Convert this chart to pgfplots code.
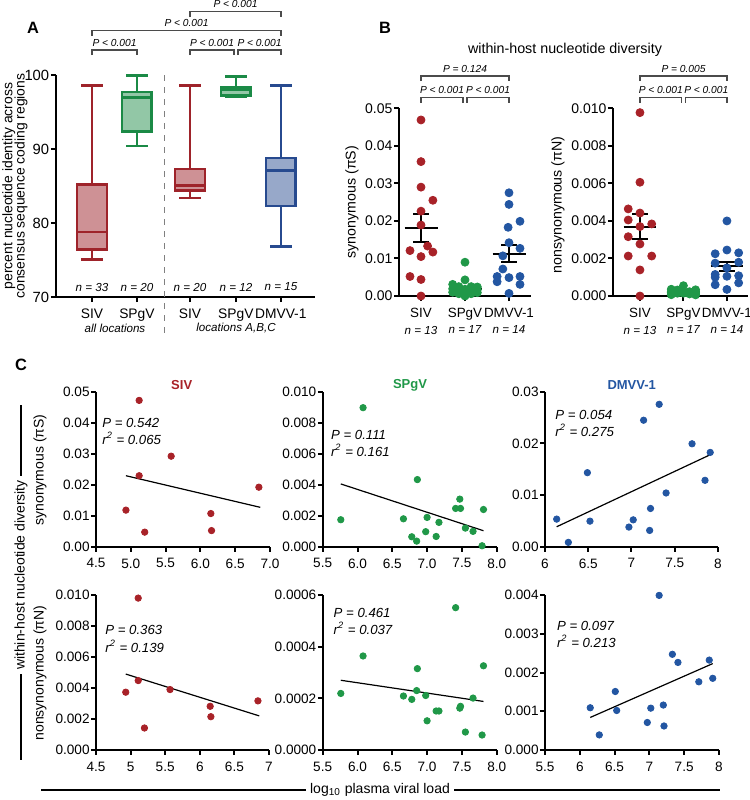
\documentclass[border=0pt]{standalone}
\usepackage{fontspec}
\setmainfont{Liberation Sans}
\usepackage{pgfplots}
\pgfplotsset{compat=1.18}
\definecolor{sivc}{RGB}{158,35,42}
\definecolor{spgc}{RGB}{27,138,70}
\definecolor{dmvc}{RGB}{39,74,143}
\definecolor{sivd}{RGB}{168,34,40}
\definecolor{spgd}{RGB}{32,152,72}
\definecolor{dmvd}{RGB}{35,86,162}
\definecolor{brk}{RGB}{75,75,75}
\newcommand\fs[1]{\fontsize{#1}{#1}\selectfont}
\pgfplotsset{
  base/.style={scale only axis, anchor=south west, axis lines=left, clip=false,
    axis line style={line width=1pt,-}, tick align=outside,
    major tick style={line width=1pt,black}, major tick length=2.5pt,
    yticklabel style={inner xsep=0.6pt},
    scaled ticks=false, /pgf/number format/assume math mode=true},
  bax/.style={base, tick label style={font=\fs{7.0}}, major tick length=2.5pt},
  cax/.style={base, tick label style={font=\fs{6.8}}, major tick length=2.4pt, height=77.5pt},
  sdot/.style={only marks, mark=*, mark size=2pt},
  cdot/.style={only marks, mark=*, mark size=1.6pt},
  reg/.style={black, line width=0.6pt},
  eb/.style={black, line width=1pt},
}
% bracket: x1, x2, y (horizontal), leg length, text
\newcommand\brk[5]{%
  \draw[brk, line width=0.7pt] (#1,{-(#3)-(#4)}) -- (#1,-#3) -- (#2,-#3) -- (#2,{-(#3)-(#4)});
  \node[font=\fs{5.1}\itshape, inner sep=0pt] at ({(#1+#2)/2},{-(#3)+7.5}) {#5};}
\begin{document}
\begin{tikzpicture}[x=0.5pt,y=0.5pt]
\path[use as bounding box] (0,0) rectangle (750,-800);

% ================= Panel A =================
\node[font=\fs{8.2}\bfseries] at (33,-28) {A};
\begin{axis}[base, at={(28pt,-148.5pt)}, width=129.5pt, height=111pt,
  axis line style={line width=1.2pt}, major tick style={line width=1.2pt}, major tick length=2.6pt,
  xmin=0.2, xmax=5.96, ymin=70, ymax=100, ytick={70,80,90,100},
  yticklabel style={font=\fs{7.4}},
  xtick={1,2,3.18,4.2,5.2}, xticklabels={SIV,SPgV,SIV,SPgV,DMVV-1},
  xticklabel style={font=\fs{6.9}}]
% SIV (all locations)
\addplot[draw=sivc, fill=sivc!50!white, line width=1.3pt] coordinates {(0.67,76.4)(1.33,76.4)(1.33,85.2)(0.67,85.2)} -- cycle;
\addplot[sivc, line width=1.3pt] coordinates {(0.67,78.8)(1.33,78.8)};
\addplot[sivc, line width=1.3pt] coordinates {(1,85.2)(1,98.6)};
\addplot[sivc, line width=1.3pt] coordinates {(0.76,98.6)(1.24,98.6)};
\addplot[sivc, line width=1.3pt] coordinates {(1,76.4)(1,75.1)};
\addplot[sivc, line width=1.3pt] coordinates {(0.76,75.1)(1.24,75.1)};
% SPgV (all locations)
\addplot[draw=spgc, fill=spgc!48!white, line width=1.3pt] coordinates {(1.67,92.4)(2.33,92.4)(2.33,97.7)(1.67,97.7)} -- cycle;
\addplot[spgc, line width=1.3pt] coordinates {(1.67,97.0)(2.33,97.0)};
\addplot[spgc, line width=1.3pt] coordinates {(2,97.7)(2,99.95)};
\addplot[spgc, line width=1.3pt] coordinates {(1.76,99.95)(2.24,99.95)};
\addplot[spgc, line width=1.3pt] coordinates {(2,92.4)(2,90.4)};
\addplot[spgc, line width=1.3pt] coordinates {(1.76,90.4)(2.24,90.4)};
% SIV (A,B,C)
\addplot[draw=sivc, fill=sivc!50!white, line width=1.3pt] coordinates {(2.85,84.4)(3.51,84.4)(3.51,87.3)(2.85,87.3)} -- cycle;
\addplot[sivc, line width=1.3pt] coordinates {(2.85,85.1)(3.51,85.1)};
\addplot[sivc, line width=1.3pt] coordinates {(3.18,87.3)(3.18,98.6)};
\addplot[sivc, line width=1.3pt] coordinates {(2.94,98.6)(3.42,98.6)};
\addplot[sivc, line width=1.3pt] coordinates {(3.18,84.4)(3.18,83.4)};
\addplot[sivc, line width=1.3pt] coordinates {(2.94,83.4)(3.42,83.4)};
% SPgV (A,B,C)
\addplot[draw=spgc, fill=spgc!48!white, line width=1.3pt] coordinates {(3.87,97.2)(4.53,97.2)(4.53,98.3)(3.87,98.3)} -- cycle;
\addplot[spgc, line width=1.3pt] coordinates {(3.87,98.0)(4.53,98.0)};
\addplot[spgc, line width=1.3pt] coordinates {(4.2,98.3)(4.2,99.8)};
\addplot[spgc, line width=1.3pt] coordinates {(3.96,99.8)(4.44,99.8)};
\addplot[spgc, line width=1.3pt] coordinates {(3.96,97.05)(4.44,97.05)};
% DMVV-1
\addplot[draw=dmvc, fill=dmvc!48!white, line width=1.3pt] coordinates {(4.87,82.3)(5.53,82.3)(5.53,88.8)(4.87,88.8)} -- cycle;
\addplot[dmvc, line width=1.3pt] coordinates {(4.87,87.1)(5.53,87.1)};
\addplot[dmvc, line width=1.3pt] coordinates {(5.2,88.8)(5.2,98.6)};
\addplot[dmvc, line width=1.3pt] coordinates {(4.96,98.6)(5.44,98.6)};
\addplot[dmvc, line width=1.3pt] coordinates {(5.2,82.3)(5.2,76.8)};
\addplot[dmvc, line width=1.3pt] coordinates {(4.96,76.8)(5.44,76.8)};
\end{axis}
\draw[gray, dashed, line width=0.5pt] (164,-75) -- (164,-333);
\foreach \xx/\tt in {92/33,137/20,190/20,236/12,281/15}
  \node[font=\fs{5.8}\itshape] at (\xx,-287) {n = \tt};
\node[font=\fs{5.8}\itshape] at (115,-328) {all locations};
\node[font=\fs{5.8}\itshape] at (236,-328) {locations A,B,C};
\node[font=\fs{6.95}, rotate=90, align=center, inner sep=0pt] at (15,-186) {percent nucleotide identity across\\[-0.8pt]consensus sequence coding regions};
\brk{92}{137}{50}{5}{P < 0.001}
\brk{190}{234}{50}{5}{P < 0.001}
\brk{238}{281}{50}{5}{P < 0.001}
\brk{92}{281}{30.7}{5}{P < 0.001}
\brk{190}{281}{11.7}{5.6}{P < 0.001}

% ================= Panel B =================
\node[font=\fs{8.2}\bfseries] at (385,-28) {B};
\node[font=\fs{7.15}] at (565,-50) {within-host nucleotide diversity};
\begin{axis}[bax, at={(199.5pt,-148pt)}, width=66pt, height=93.85pt,
  xmin=0.5, xmax=3.5, ymin=0, ymax=0.05,
  ytick={0,0.01,0.02,0.03,0.04,0.05}, yticklabels={0.00,0.01,0.02,0.03,0.04,0.05},
  xtick={1,2,3}, xticklabels={SIV,SPgV,DMVV-1}, xticklabel style={font=\fs{6.7}}]
\addplot[sdot, sivd] coordinates {(1,0.0469)(1,0.0358)(1,0.0290)(1.27,0.0255)(1,0.0226)(1,0.0189)(1.15,0.0133)(0.75,0.0121)(1.27,0.0117)(1,0.0105)(0.75,0.0052)(1,0.0044)(1,0.0)};
\addplot[sdot, spgd] coordinates {(2,0.0090)(2,0.0043)(1.72,0.0031)(1.86,0.0025)(2.14,0.0025)(2.28,0.0024)(1.72,0.0019)(2.0,0.0018)(2.28,0.0017)(1.86,0.0015)(2.14,0.0012)(1.72,0.0010)(2.28,0.0009)(1.86,0.0006)(2.14,0.0006)(2.0,0.0003)(2.0,0.0000)};
\addplot[sdot, dmvd] coordinates {(3,0.0275)(3,0.0244)(3.25,0.0199)(2.98,0.0183)(3,0.0142)(3.25,0.0127)(2.86,0.0107)(2.86,0.0072)(2.73,0.0052)(3,0.0049)(3.25,0.0052)(2.73,0.0038)(3.25,0.0031)(3,0.0007)};
% mean and SEM
\addplot[eb] coordinates {(0.625,0.0182)(1.375,0.0182)};
\addplot[eb] coordinates {(1,0.0145)(1,0.0219)};
\addplot[eb] coordinates {(0.82,0.0219)(1.18,0.0219)};
\addplot[eb] coordinates {(0.82,0.0145)(1.18,0.0145)};
\addplot[eb] coordinates {(1.625,0.0020)(2.375,0.0020)};
\addplot[eb] coordinates {(1.82,0.0025)(2.18,0.0025)};
\addplot[eb] coordinates {(1.82,0.0015)(2.18,0.0015)};
\addplot[eb] coordinates {(2,0.0015)(2,0.0025)};
\addplot[eb] coordinates {(2.625,0.0113)(3.375,0.0113)};
\addplot[eb] coordinates {(3,0.0091)(3,0.0136)};
\addplot[eb] coordinates {(2.82,0.0136)(3.18,0.0136)};
\addplot[eb] coordinates {(2.82,0.0091)(3.18,0.0091)};
\end{axis}
\begin{axis}[bax, at={(306.5pt,-148pt)}, width=67.4pt, height=93.85pt,
  xmin=0.38, xmax=3.48, ymin=0, ymax=0.010,
  ytick={0,0.002,0.004,0.006,0.008,0.010}, yticklabels={0.000,0.002,0.004,0.006,0.008,0.010},
  xtick={1,2,3}, xticklabels={SIV,SPgV,DMVV-1}, xticklabel style={font=\fs{6.7}}]
\addplot[sdot, sivd] coordinates {(1,0.00977)(1,0.00606)(0.73,0.00464)(1,0.00442)(0.73,0.00405)(1.27,0.00384)(1,0.00370)(0.73,0.00316)(1,0.00277)(0.73,0.00213)(1.27,0.00213)(1,0.00139)(1,0.0)};
\addplot[sdot, spgd] coordinates {(2,0.00055)(1.72,0.00036)(2.28,0.00033)(1.86,0.00032)(2.14,0.00023)(1.72,0.00022)(2.28,0.00021)(2,0.00021)(1.86,0.00020)(2.14,0.00019)(1.72,0.00017)(2.28,0.00016)(2,0.00015)(1.86,0.00015)(2.14,0.00011)(1.72,0.00007)(2.28,0.00006)};
\addplot[sdot, dmvd] coordinates {(3,0.0040)(3,0.00245)(3.27,0.0023)(2.73,0.00225)(3.27,0.0018)(2.73,0.00175)(3,0.0015)(2.73,0.00115)(3.27,0.00108)(3,0.00105)(2.73,0.0010)(3.27,0.0007)(2.73,0.0006)(3,0.00035)};
\addplot[eb] coordinates {(0.625,0.0037)(1.375,0.0037)};
\addplot[eb] coordinates {(1,0.00304)(1,0.00435)};
\addplot[eb] coordinates {(0.82,0.00435)(1.18,0.00435)};
\addplot[eb] coordinates {(0.82,0.00304)(1.18,0.00304)};
\addplot[eb] coordinates {(1.625,0.0002)(2.375,0.0002)};
\addplot[eb] coordinates {(1.82,0.00023)(2.18,0.00023)};
\addplot[eb] coordinates {(1.82,0.00017)(2.18,0.00017)};
\addplot[eb] coordinates {(2.625,0.00158)(3.375,0.00158)};
\addplot[eb] coordinates {(3,0.00133)(3,0.00183)};
\addplot[eb] coordinates {(2.82,0.00183)(3.18,0.00183)};
\addplot[eb] coordinates {(2.82,0.00133)(3.18,0.00133)};
\end{axis}
\node[font=\fs{7.1}, rotate=90] at (352,-202) {synonymous (πS)};
\node[font=\fs{7.1}, rotate=90] at (558,-205) {nonsynonymous (πN)};
\foreach \xx/\tt in {421/13,465/17,509/14,640/13,683.5/17,727/14}
  \node[font=\fs{5.8}\itshape] at (\xx,-330) {n = \tt};
\brk{421}{463}{97.5}{5}{P < 0.001}
\brk{467}{509}{97.5}{5}{P < 0.001}
\brk{421}{509}{76}{5}{P = 0.124}
\brk{640}{681.5}{97.5}{5}{P < 0.001}
\brk{685.5}{727}{97.5}{5}{P < 0.001}
\brk{640}{727}{76}{5}{P = 0.005}

% ================= Panel C =================
\node[font=\fs{8.2}\bfseries] at (21,-365) {C};
% top row
\begin{axis}[cax, at={(48pt,-273.35pt)}, width=87pt,
  xmin=4.5, xmax=7, ymin=0, ymax=0.05,
  xtick={4.5,5,5.5,6,6.5,7}, xticklabels={4.5,5.0,5.5,6.0,6.5,7.0},
  ytick={0,0.01,0.02,0.03,0.04,0.05}, yticklabels={0.00,0.01,0.02,0.03,0.04,0.05}]
\addplot[cdot, sivd] coordinates {(5.12,0.0472)(5.58,0.0292)(5.12,0.0229)(4.93,0.0118)(5.20,0.0047)(6.15,0.0107)(6.16,0.0052)(6.84,0.0192)};
\addplot[reg] coordinates {(4.93,0.0229)(6.86,0.0127)};
\end{axis}
\begin{axis}[cax, at={(161.35pt,-273.35pt)}, width=87pt,
  xmin=5.5, xmax=8, ymin=0, ymax=0.010,
  xtick={5.5,6,6.5,7,7.5,8}, xticklabels={5.5,6.0,6.5,7.0,7.5,8.0},
  ytick={0,0.002,0.004,0.006,0.008,0.010}, yticklabels={0.000,0.002,0.004,0.006,0.008,0.010}]
\addplot[cdot, spgd] coordinates {(6.08,0.00897)(5.76,0.00174)(6.86,0.00433)(6.66,0.0018)(6.78,0.00064)(6.85,0.00036)(7.00,0.00189)(6.98,0.00097)(7.17,0.00157)(7.13,0.00066)(7.41,0.00247)(7.47,0.00307)(7.48,0.00247)(7.55,0.0012)(7.66,0.00099)(7.81,0.0024)(7.79,0.00006)};
\addplot[reg] coordinates {(5.76,0.00405)(7.81,0.00103)};
\end{axis}
\begin{axis}[cax, at={(272.5pt,-273.35pt)}, width=86.5pt,
  xmin=6, xmax=8, ymin=0, ymax=0.03,
  xtick={6,6.5,7,7.5,8}, xticklabels={6,6.5,7,7.5,8},
  ytick={0,0.01,0.02,0.03}, yticklabels={0.00,0.01,0.02,0.03}]
\addplot[cdot, dmvd] coordinates {(6.135,0.00534)(6.27,0.00084)(6.49,0.01433)(6.52,0.00495)(6.97,0.0038)(7.02,0.0052)(7.14,0.02448)(7.21,0.00315)(7.22,0.0074)(7.32,0.02756)(7.40,0.0104)(7.70,0.01992)(7.85,0.01285)(7.91,0.01825)};
\addplot[reg] coordinates {(6.135,0.00386)(7.91,0.0178)};
\end{axis}
% bottom row
\begin{axis}[cax, at={(48pt,-375pt)}, width=86.5pt,
  xmin=4.5, xmax=7, ymin=0, ymax=0.010,
  xtick={4.5,5,5.5,6,6.5,7}, xticklabels={4.5,5,5.5,6,6.5,7},
  ytick={0,0.002,0.004,0.006,0.008,0.010}, yticklabels={0.000,0.002,0.004,0.006,0.008,0.010}]
\addplot[cdot, sivd] coordinates {(5.11,0.0098)(5.11,0.00448)(4.93,0.00373)(5.57,0.0039)(5.20,0.00142)(6.15,0.00282)(6.16,0.00215)(6.84,0.00317)};
\addplot[reg] coordinates {(4.93,0.0049)(6.86,0.0022)};
\end{axis}
\begin{axis}[cax, at={(161.35pt,-375pt)}, width=87pt,
  xmin=5.5, xmax=8, ymin=0, ymax=0.0006,
  xtick={5.5,6,6.5,7,7.5,8}, xticklabels={5.5,6.0,6.5,7.0,7.5,8.0},
  ytick={0,0.0002,0.0004,0.0006}, yticklabels={0.0000,0.0002,0.0004,0.0006}]
\addplot[cdot, spgd] coordinates {(5.76,0.000219)(6.08,0.000364)(7.41,0.000551)(6.86,0.000315)(7.81,0.000326)(6.66,0.000209)(6.78,0.000196)(6.85,0.00023)(6.98,0.000211)(7.00,0.000113)(7.13,0.000151)(7.17,0.000151)(7.47,0.000162)(7.48,0.000169)(7.55,0.0000695)(7.66,0.000201)(7.79,0.000058)};
\addplot[reg] coordinates {(5.76,0.00027)(7.81,0.000188)};
\end{axis}
\begin{axis}[cax, at={(272.5pt,-375pt)}, width=87pt,
  xmin=5.5, xmax=8, ymin=0, ymax=0.004,
  xtick={5.5,6,6.5,7,7.5,8}, xticklabels={5.5,6,6.5,7,7.5,8},
  ytick={0,0.001,0.002,0.003,0.004}, yticklabels={0.000,0.001,0.002,0.003,0.004}]
\addplot[cdot, dmvd] coordinates {(6.15,0.00109)(6.28,0.00039)(6.51,0.00151)(6.53,0.00102)(6.97,0.00071)(7.02,0.00108)(7.14,0.00399)(7.20,0.00116)(7.21,0.00062)(7.33,0.00247)(7.41,0.00226)(7.71,0.00176)(7.86,0.00232)(7.91,0.00185)};
\addplot[reg] coordinates {(6.15,0.00084)(7.91,0.00223)};
\end{axis}
% titles and stats
\node[font=\fs{6.5}\bfseries, text=sivd] at (181.7,-385) {SIV};
\node[font=\fs{6.5}\bfseries, text=spgd] at (410,-385) {SPgV};
\node[font=\fs{6.5}\bfseries, text=dmvd] at (631.7,-385) {DMVV-1};
\begin{scope}[every node/.style={anchor=west, font=\fs{6.6}\itshape, inner sep=0pt}]
\node at (102,-423) {P = 0.542};
\node at (102,-438.5) {r\textsuperscript{2} = 0.065};
\node at (330.7,-435) {P = 0.111};
\node at (330.7,-450.5) {r\textsuperscript{2} = 0.161};
\node at (555,-415) {P = 0.054};
\node at (555,-430.5) {r\textsuperscript{2} = 0.275};
\node at (105,-630) {P = 0.363};
\node at (105,-646.5) {r\textsuperscript{2} = 0.139};
\node at (333.3,-612.7) {P = 0.461};
\node at (333.3,-628.5) {r\textsuperscript{2} = 0.037};
\node at (556.7,-625.7) {P = 0.097};
\node at (556.7,-641) {r\textsuperscript{2} = 0.213};
\end{scope}
\node[font=\fs{7}, rotate=90] at (40,-470) {synonymous (πS)};
\node[font=\fs{7}, rotate=90] at (40,-673) {nonsynonymous (πN)};
\draw[black, line width=0.6pt] (21,-405) -- (21,-760);
\node[font=\fs{7}, rotate=90, fill=white, inner xsep=2pt, inner ysep=1pt] at (21,-575) {within-host nucleotide diversity};
\draw[black, line width=0.6pt] (41,-790) -- (720,-790);
\node[font=\fs{7}, fill=white, inner xsep=2pt, inner ysep=1pt] at (380,-790) {log\textsubscript{10} plasma viral load};
\end{tikzpicture}
\end{document}
